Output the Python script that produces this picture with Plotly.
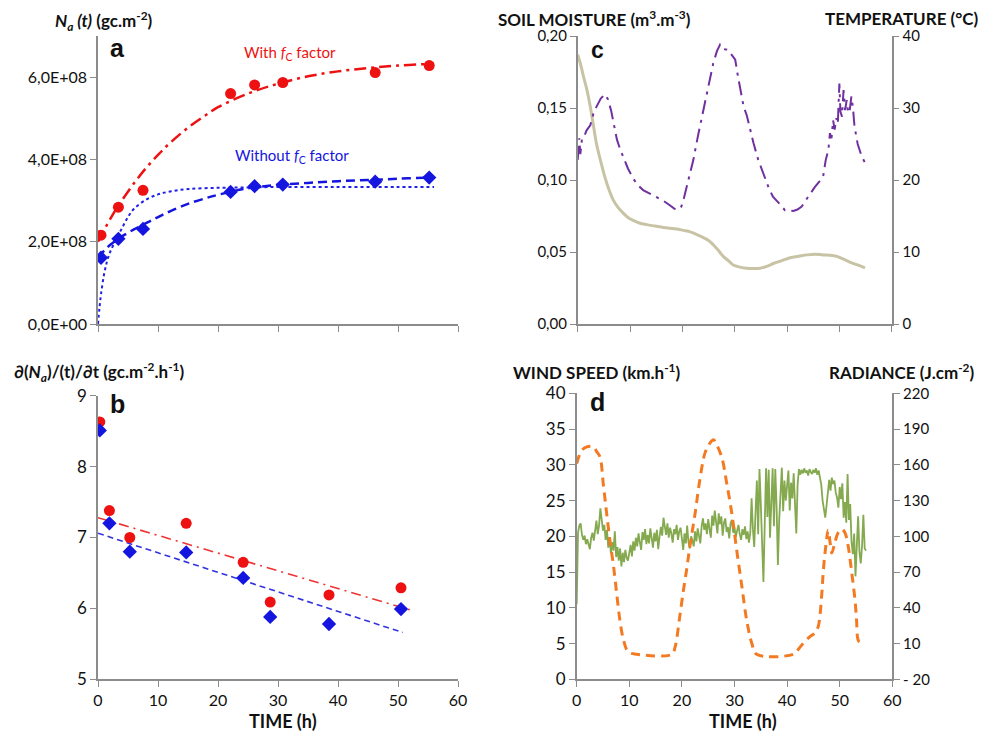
import plotly.graph_objects as go

# The page body adds an 8px margin at the top-left, so the figure is shifted
# by that margin and made large enough to reach the window's right/bottom edge.
PAGE_MARGIN = 8
W, H = 992 - PAGE_MARGIN, 733 - PAGE_MARGIN
FONT = "Lato"
AX = "#8c8c8c"

# ---------------- Panel a ----------------
a_pts_t = [0.5, 3.4, 7.5, 22.1, 26.1, 30.8, 46.2, 55.2]
a_red_pts = [2.16e8, 2.84e8, 3.25e8, 5.60e8, 5.81e8, 5.87e8, 6.11e8, 6.28e8]
a_blue_pts = [1.61e8, 2.07e8, 2.31e8, 3.21e8, 3.35e8, 3.39e8, 3.46e8, 3.56e8]
a_curve_t = [0, 1, 2, 3, 4, 6, 8, 10, 12, 15, 18, 20, 25, 30, 35, 40, 45, 50, 55, 56]
a_red_fit = [2.00e8, 2.28e8, 2.54e8, 2.79e8, 3.01e8, 3.42e8, 3.79e8, 4.11e8, 4.40e8, 4.77e8,
             5.08e8, 5.27e8, 5.60e8, 5.84e8, 6.02e8, 6.14e8, 6.22e8, 6.28e8, 6.32e8, 6.33e8]
a_blue_fit = [1.62e8, 1.78e8, 1.92e8, 2.03e8, 2.13e8, 2.30e8, 2.45e8, 2.60e8, 2.74e8, 2.92e8,
              3.06e8, 3.14e8, 3.30e8, 3.38e8, 3.43e8, 3.47e8, 3.50e8, 3.53e8, 3.56e8, 3.57e8]
a_dot_t = [0, 0.25, 0.5, 1, 1.5, 2, 3, 4, 5, 6, 8, 10, 12, 15, 20, 25, 30, 40, 50, 56]
a_dot_fit = [0, 0.40e8, 0.72e8, 1.20e8, 1.52e8, 1.74e8, 2.05e8, 2.33e8, 2.60e8, 2.80e8, 3.02e8,
             3.15e8, 3.22e8, 3.28e8, 3.31e8, 3.32e8, 3.33e8, 3.33e8, 3.33e8, 3.33e8]
a_yticks = [0, 2e8, 4e8, 6e8]
a_yticklabels = ["0,0E+00", "2,0E+08", "4,0E+08", "6,0E+08"]

# ---------------- Panel b ----------------
b_t = [0.3, 1.9, 5.3, 14.7, 24.2, 28.7, 38.5, 50.5]
b_red = [8.63, 7.38, 7.00, 7.20, 6.65, 6.09, 6.19, 6.29]
b_blue = [8.51, 7.20, 6.80, 6.79, 6.43, 5.88, 5.78, 5.99]
b_red_line_t = [0, 52]
b_red_line = [7.28, 5.98]
b_blue_line_t = [0, 50.8]
b_blue_line = [7.06, 5.66]

# ---------------- Panel c ----------------
sm_t = [0.0, 0.5, 1.1, 1.8, 2.4, 3.0, 3.6, 4.4, 5.2, 6.0, 6.8, 7.7, 8.7, 9.6, 10.6, 11.9, 13.2,
        14.8, 16.4, 17.6, 18.9, 20.2, 21.5, 22.8, 24.0, 25.0, 25.9, 26.9, 27.8, 28.8, 29.7, 31.0,
        32.3, 33.5, 34.8, 36.1, 37.4, 39.0, 40.6, 42.2, 43.8, 45.4, 46.9, 48.2, 49.5, 50.8, 52.0,
        53.5, 54.9]
sm_v = [0.187, 0.181, 0.172, 0.162, 0.151, 0.138, 0.125, 0.113, 0.102, 0.093, 0.086, 0.081,
        0.077, 0.074, 0.072, 0.070, 0.069, 0.068, 0.067, 0.0665, 0.066, 0.065, 0.064, 0.062,
        0.060, 0.058, 0.055, 0.051, 0.047, 0.044, 0.041, 0.0395, 0.0387, 0.0385, 0.0387, 0.040,
        0.042, 0.044, 0.046, 0.047, 0.048, 0.0485, 0.048, 0.0478, 0.047, 0.045, 0.043, 0.041, 0.039]
temp_t = [0.0, 0.3, 0.5, 0.8, 1.2, 1.7, 2.4, 3.0, 3.6, 4.4, 5.2, 5.8, 6.4, 7.0, 7.5, 8.1, 8.7, 9.6,
          10.6, 11.5, 12.5, 13.8, 15.1, 16.4, 17.6, 18.5, 19.2, 19.8, 20.3, 21.0, 21.6, 22.1, 23.0,
          24.0, 25.0, 25.9, 26.6, 27.2, 27.8, 28.5, 29.2, 30.1, 30.6, 31.2, 31.7, 32.3, 33.0, 33.6,
          34.5, 35.5, 36.5, 37.3, 38.0, 38.8, 39.6, 40.4, 41.2, 42.0, 42.8, 43.6, 44.4, 45.3, 46.2,
          46.9, 47.4, 47.9, 48.2, 48.5, 48.8, 49.1, 49.4, 49.7, 50.0, 50.2, 50.5, 50.8, 51.1, 51.4,
          51.7, 52.0, 52.3, 52.6, 52.9, 53.5, 54.3, 55.0]
temp_v = [22.8, 25.8, 23.6, 25.6, 26.0, 26.9, 27.6, 29.2, 30.2, 31.3, 31.9, 31.2, 29.6, 27.6, 25.6,
          24.3, 23.2, 21.6, 20.2, 19.3, 18.6, 18.1, 17.7, 17.1, 16.5, 16.0, 15.9, 16.3, 17.5, 19.6,
          21.5, 22.8, 26.2, 29.7, 33.2, 36.2, 37.9, 38.8, 38.2, 38.1, 37.6, 36.7, 34.5, 32.0, 30.2,
          29.0, 26.8, 25.1, 22.8, 20.9, 18.9, 17.7, 17.2, 16.5, 15.8, 15.7, 15.7, 15.9, 16.3, 17.2,
          18.1, 19.0, 19.8, 20.5, 22.8, 24.2, 26.5, 25.8, 28.3, 27.0, 28.6, 27.8, 33.4, 29.5, 28.8,
          32.5, 29.7, 31.1, 29.3, 29.8, 31.6, 30.0, 27.4, 25.0, 23.2, 22.3]
c_left_ticks = [0, 0.05, 0.10, 0.15, 0.20]
c_left_labels = ["0,00", "0,05", "0,10", "0,15", "0,20"]

# ---------------- Panel d ----------------
wind_step = 0.25
wind_v = [
    10.5, 20.5, 21.5, 21.8, 20.2, 19.5, 20.1, 18.9, 19.6, 19.0, 18.2, 19.8, 20.5, 19.4, 21.0, 22.2, 20.3, 21.5, 23.9, 22.0,
    20.8, 21.6, 19.5, 20.9, 18.4, 19.9, 17.6, 19.2, 18.0, 20.7, 17.1, 18.5, 16.6, 18.3, 15.8, 17.7, 16.4, 18.1, 17.0, 16.6,
    17.5, 18.8, 17.2, 19.3, 18.0, 19.8, 18.6, 20.4, 19.2, 18.1, 20.6, 19.5, 21.0, 18.9, 20.2, 19.0, 21.1, 19.6, 18.4, 20.5,
    19.3, 20.9, 18.2, 20.0, 21.3, 20.1, 22.6, 21.4, 20.2, 21.8, 19.8, 21.2, 20.4, 19.1, 21.0, 20.3, 21.6, 19.5, 20.7, 21.2,
    19.8, 18.1, 20.4, 19.0, 21.5, 19.2, 18.3, 20.0, 19.4, 18.6, 20.7, 19.3, 21.1, 20.2, 19.0, 21.4, 22.5, 20.9, 21.8, 20.3,
    22.4, 21.0, 19.8, 22.9, 21.5, 23.6, 22.1, 20.4, 23.2, 21.7, 22.8, 20.1, 21.9, 22.5, 20.6, 21.3, 19.7, 21.8, 22.3, 20.5,
    21.2, 19.9, 20.8, 21.6, 20.3, 19.5, 21.0, 20.2, 21.4, 19.6, 20.7, 19.1, 20.5, 25.3, 21.0, 18.5, 23.4, 27.8, 20.3, 29.4,
    24.5, 17.2, 13.6, 21.8, 29.5, 22.7, 29.3, 19.8, 25.6, 29.5, 21.4, 29.4, 24.2, 16.0, 22.3, 27.1, 29.6, 23.5, 27.8, 25.0,
    26.8, 29.2, 23.6, 27.5, 25.3, 28.8, 24.6, 20.4, 27.3, 29.4, 28.6, 29.3, 28.8, 29.5, 28.9, 29.2, 28.5, 29.4, 29.0, 28.7,
    29.3, 28.9, 29.5, 28.6, 29.2, 28.4, 27.2, 25.0, 23.4, 22.6, 24.3, 26.8, 27.9, 26.4, 28.2, 27.3, 27.8, 26.1, 25.4, 24.0,
    26.9, 25.2, 27.4, 22.6, 24.8, 21.9, 28.7, 22.3, 24.5, 19.2, 17.5, 20.4, 14.4, 18.6, 22.8, 17.9, 16.2, 18.7, 23.0, 18.3,
    18.0]
wind_t = [i * wind_step for i in range(len(wind_v))]
rad_t = [0.0, 0.95, 1.9, 3.2, 3.8, 4.4, 5.1, 5.7, 6.3, 7.0, 7.6, 8.2, 8.9, 9.8, 11.4, 18.1, 18.7,
         19.6, 20.3, 20.9, 21.5, 22.5, 23.4, 24.4, 25.3, 26.0, 26.6, 27.6, 28.5, 29.5, 30.4, 31.4,
         32.3, 33.3, 34.2, 41.2, 42.1, 43.4, 44.4, 45.3, 45.9, 46.6, 46.9, 47.5, 47.8, 48.2, 48.5,
         49.1, 49.7, 50.4, 51.0, 51.6, 52.3, 52.9, 53.2, 53.5, 53.9, 54.8]
rad_v = [161, 172, 175, 175, 171, 167, 142, 119, 97, 75, 52, 30, 13, 3, 1, 1, 7, 33, 55, 72, 91,
         119, 147, 170, 178, 181, 177, 166, 145, 119, 89, 58, 30, 10, 1, 1, 5, 12, 16, 19, 24, 52,
         72, 97, 105, 94, 86, 95, 103, 106, 103, 92, 69, 47, 30, 13, 11, 12]

fig = go.Figure()

# panel a traces
fig.add_trace(go.Scatter(x=a_curve_t, y=a_red_fit, mode="lines", line=dict(color="#ee1111", width=2.5, dash="12px,5px,3px,5px", shape="spline"), xaxis="x", yaxis="y"))
fig.add_trace(go.Scatter(x=a_dot_t, y=a_dot_fit, mode="lines", line=dict(color="#2020e8", width=2, dash="dot", shape="spline"), xaxis="x", yaxis="y"))
fig.add_trace(go.Scatter(x=a_curve_t, y=a_blue_fit, mode="lines", line=dict(color="#1515e0", width=2.5, dash="9px,5px", shape="spline"), xaxis="x", yaxis="y"))
fig.add_trace(go.Scatter(x=a_pts_t, y=a_red_pts, mode="markers", marker=dict(color="#ee1111", size=11, symbol="circle"), xaxis="x", yaxis="y"))
fig.add_trace(go.Scatter(x=a_pts_t, y=a_blue_pts, mode="markers", marker=dict(color="#1515e0", size=11, symbol="diamond"), xaxis="x", yaxis="y"))

# panel b traces
fig.add_trace(go.Scatter(x=b_red_line_t, y=b_red_line, mode="lines", line=dict(color="#ee3333", width=1.6, dash="10px,5px,2px,5px"), xaxis="x2", yaxis="y2"))
fig.add_trace(go.Scatter(x=b_blue_line_t, y=b_blue_line, mode="lines", line=dict(color="#3333e0", width=1.6, dash="6px,4px"), xaxis="x2", yaxis="y2"))
fig.add_trace(go.Scatter(x=b_t, y=b_red, mode="markers", marker=dict(color="#ee1111", size=11, symbol="circle"), xaxis="x2", yaxis="y2"))
fig.add_trace(go.Scatter(x=b_t, y=b_blue, mode="markers", marker=dict(color="#1515e0", size=11, symbol="diamond"), xaxis="x2", yaxis="y2"))

# panel c traces
fig.add_trace(go.Scatter(x=sm_t, y=sm_v, mode="lines", line=dict(color="#c8c3a4", width=3, shape="spline"), xaxis="x3", yaxis="y3"))
fig.add_trace(go.Scatter(x=temp_t, y=temp_v, mode="lines", line=dict(color="#7030a0", width=2, dash="14px,6px,3px,6px"), xaxis="x3", yaxis="y4"))

# panel d traces
fig.add_trace(go.Scatter(x=wind_t, y=wind_v, mode="lines", line=dict(color="#77a03c", width=1.8), opacity=0.9, xaxis="x4", yaxis="y5"))
fig.add_trace(go.Scatter(x=rad_t, y=rad_v, mode="lines", line=dict(color="#f47a22", width=3, dash="9px,6px", shape="spline"), xaxis="x4", yaxis="y6"))

def px_x(p):
    return (p - PAGE_MARGIN) / W

def px_y(p):
    return 1 - (p - PAGE_MARGIN) / H

base = dict(showgrid=False, zeroline=False, showline=True, linecolor=AX, linewidth=1.5,
            ticks="outside", ticklen=6, tickcolor=AX, tickwidth=1.2, automargin=False)

dom_ax = [px_x(98), px_x(458)]
dom_cx = [px_x(577.7), px_x(891.7)]
dom_dx = [px_x(576.7), px_x(892.3)]
dom_top = [px_y(324), px_y(36)]
dom_b = [px_y(679.3), px_y(395.7)]
dom_d = [px_y(679.3), px_y(393.3)]

fig.update_layout(
    width=W, height=H, margin=dict(l=0, r=0, t=0, b=0, pad=0), autosize=False,
    paper_bgcolor="white", plot_bgcolor="white", showlegend=False,
    font=dict(family=FONT, color="#111111"),
    xaxis=dict(base, domain=dom_ax, range=[0, 60], tickvals=[0, 10, 20, 30, 40, 50, 60], showticklabels=False, anchor="y"),
    yaxis=dict(base, domain=dom_top, range=[0, 7e8], tickvals=a_yticks, ticktext=a_yticklabels, tickfont=dict(size=16), anchor="x"),
    xaxis2=dict(base, domain=dom_ax, range=[0, 60], dtick=10, tickfont=dict(size=16), anchor="y2"),
    yaxis2=dict(base, domain=dom_b, range=[5, 9], dtick=1, tickfont=dict(size=17), anchor="x2"),
    xaxis3=dict(base, domain=dom_cx, range=[0, 60], tickvals=[0, 10, 20, 30, 40, 50, 60], showticklabels=False, anchor="y3"),
    yaxis3=dict(base, domain=dom_top, range=[0, 0.2], tickvals=c_left_ticks, ticktext=c_left_labels, tickfont=dict(size=15), anchor="x3"),
    yaxis4=dict(base, range=[0, 40], dtick=10, tickfont=dict(size=15), overlaying="y3", side="right", anchor="x3"),
    xaxis4=dict(base, domain=dom_dx, range=[0, 60], dtick=10, tickfont=dict(size=16), anchor="y5"),
    yaxis5=dict(base, domain=dom_d, range=[0, 40], dtick=5, tickfont=dict(size=17), anchor="x4"),
    yaxis6=dict(base, range=[-20, 220], tickvals=[-20, 10, 40, 70, 100, 130, 160, 190, 220],
                ticktext=["- 20", "10", "40", "70", "100", "130", "160", "190", "220"],
                tickfont=dict(size=15), overlaying="y5", side="right", anchor="x4"),
)

def ann(text, x, y, size=16, color="#111111", xanchor="center", bold=False, family=FONT):
    if bold:
        text = "<b>" + text + "</b>"
    fig.add_annotation(text=text, x=px_x(x), y=px_y(y), xref="paper", yref="paper",
                       showarrow=False, xanchor=xanchor, yanchor="middle",
                       font=dict(size=size, color=color, family=family))

ann("<i>N<sub>a</sub> (t)</i> (gc.m<sup>-2</sup>)", 53, 21, size=17, xanchor="left", bold=True)
ann("∂(<i>N<sub>a</sub></i>)/(t)/∂t (gc.m<sup>-2</sup>.h<sup>-1</sup>)", 12, 372, size=17, xanchor="left", bold=True)
ann("SOIL MOISTURE (m<sup>3</sup>.m<sup>-3</sup>)", 496, 18, size=17, xanchor="left", bold=True)
ann("TEMPERATURE (°C)", 981, 18, size=17, xanchor="right", bold=True)
ann("WIND SPEED (km.h<sup>-1</sup>)", 511, 372, size=17, xanchor="left", bold=True)
ann("RADIANCE (J.cm<sup>-2</sup>)", 976, 372, size=17, xanchor="right", bold=True)
ann("TIME (h)", 283, 721, size=18, bold=True)
ann("TIME (h)", 743, 721, size=18, bold=True)

ann("a", 117, 48, size=25, bold=True, family="Liberation Sans")
ann("b", 117, 404, size=25, bold=True, family="Liberation Sans")
ann("c", 597, 50, size=23, bold=True, family="Liberation Sans")
ann("d", 597, 402, size=25, bold=True, family="Liberation Sans")

ann("With <i>f</i><sub>C</sub> factor", 290, 53, size=15, color="#ee1111")
ann("Without <i>f</i><sub>C</sub> factor", 292, 156, size=15, color="#1515e0")

fig.write_html("out.html")
